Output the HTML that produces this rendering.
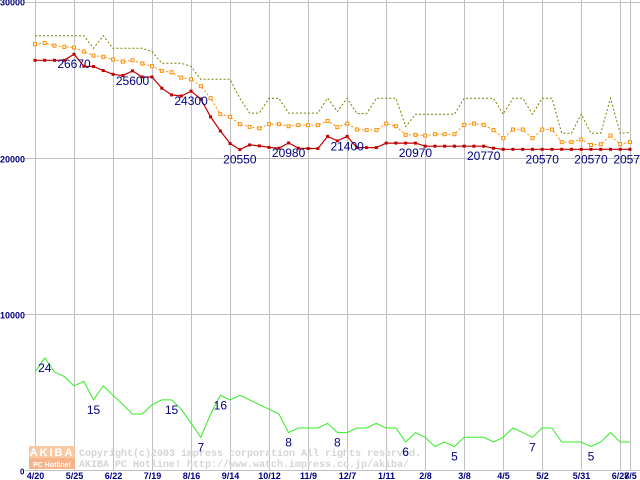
<!DOCTYPE html>
<html><head><meta charset="utf-8">
<style>
html,body{margin:0;padding:0;background:#fff;}
svg{display:block;font-family:"Liberation Sans",sans-serif;}
</style></head>
<body>
<svg id="chart" width="640" height="480" viewBox="0 0 640 480" xmlns="http://www.w3.org/2000/svg">
<g id="grid"></g>
<g id="watermark">
  <rect x="29" y="446" width="46" height="12" fill="#f9c9a4"/>
  <rect x="29" y="458" width="46" height="11" fill="#f7b48a"/>
  <text x="52" y="456" font-size="11" font-weight="bold" fill="#fff" text-anchor="middle" letter-spacing="2">AKIBA</text>
  <text x="52" y="467" font-size="7" font-weight="bold" fill="#fff" text-anchor="middle">PC Hotline!</text>
  <text x="79" y="456" font-size="10" font-family="Liberation Mono, monospace" font-weight="bold" fill="#d4d4d4">Copyright(c)2003 impress corporation All rights reserved.</text>
  <text x="79" y="467" font-size="10" font-family="Liberation Mono, monospace" font-weight="bold" fill="#d4d4d4">AKIBA PC Hotline!  http://www.watch.impress.co.jp/akiba/</text>
</g>
<g id="series"></g>
<g id="labels"></g>
</svg>
<script>
const xLabels = ["4/20","5/25","6/22","7/19","8/16","9/14","10/12","11/9","12/7","1/11","2/8","3/8","4/5","5/2","5/31","6/28","7/5"];
const xLabelIdx = [0,4,8,12,16,20,24,28,32,36,40,44,48,52,56,60,61];
const yTicks = [0,10000,20000,30000];
const minPrice = [26280,26280,26280,26280,26670,25900,25880,25620,25380,25300,25600,25210,25210,24490,24060,23990,24300,23800,22650,21750,20940,20550,20850,20790,20690,20640,20980,20640,20620,20620,21400,21110,21400,20680,20680,20680,20970,20970,20970,20970,20770,20770,20770,20770,20770,20770,20770,20640,20570,20570,20570,20570,20570,20570,20570,20570,20570,20570,20570,20570,20570,20570];
const avgPrice = [27310,27390,27220,27140,27100,26840,26580,26500,26330,26200,26280,26070,25900,25600,25510,25170,25060,24620,23850,22820,22650,22180,22010,21920,22180,22180,22050,22120,22120,22120,22390,21990,22220,21840,21800,21800,22220,22050,21500,21500,21450,21540,21540,21540,22140,22220,22140,21800,21280,21840,21840,21280,21840,21840,21030,21030,21200,20850,20900,21450,20900,21030];
const maxPrice = [27860,27860,27860,27860,27860,27860,27050,27860,27050,27050,27050,27050,26840,26090,26090,26090,25880,25060,25060,25060,25060,23850,22890,22890,23850,23850,22890,22890,22890,22890,23850,22990,23850,22860,22860,23850,23850,23850,22030,22820,22820,22820,22820,22820,23850,23850,23850,23850,22820,23850,23850,22820,23850,23850,21600,21600,22820,21600,21600,23850,21600,21650];
const shopCount = [21,24,21,20,18,19,15,18,16,14,12,12,14,15,15,13,10,7,12,16,15,16,15,14,13,12,8,9,9,9,10,8,8,9,9,10,9,9,6,8,7,5,6,5,7,7,7,6,7,9,8,7,9,9,6,6,6,5,6,8,6,6];
const priceLabelIdx = [4,10,16,21,26,32,39,46,52,57,61];
const countLabelIdx = [1,6,14,17,19,26,31,38,43,51,57];

const NS="http://www.w3.org/2000/svg";
const x0=35, dx=(630-35)/61;
function xs(i){return x0+i*dx;}
function yp(v){return 470-v*0.01559;}
function yc(c){return 470-c*4.67;}
function mk(tag,attrs,parent){const e=document.createElementNS(NS,tag);for(const k in attrs)e.setAttribute(k,attrs[k]);parent.appendChild(e);return e;}
const grid=document.getElementById('grid'), series=document.getElementById('series'), labels=document.getElementById('labels');

yTicks.forEach(t=>{
  const y=Math.round(yp(t))+0.5;
  const l=mk('line',{x1:25,x2:640,y1:y,y2:y,stroke:'#c0c0c0','stroke-width':1},grid);
  
  
  const tx=mk('text',{x:t===0?20:0,y:y+(t===30000?3:4),'font-size':t===0?8:9,'font-weight':'bold',fill:'#000080'},grid);
  tx.textContent=String(t);
  
  
});
xLabelIdx.forEach((idx,k)=>{
  const x=Math.round(xs(idx))+0.5;
  const l=mk('line',{x1:x,x2:x,y1:0,y2:471,stroke:'#c0c0c0','stroke-width':1},grid);
  
  
  const tx=mk('text',{x:x,y:479,'font-size':9,'font-weight':'bold',fill:'#000080','text-anchor':'middle'},grid);
  tx.textContent=xLabels[k];
  
  
});

function pts(arr,f){return arr.map((v,i)=>xs(i).toFixed(1)+','+f(v).toFixed(1)).join(' ');}
const ol=mk('polyline',{points:pts(maxPrice,yp),fill:'none',stroke:'#808000','stroke-width':1,'stroke-dasharray':'2,2'},series);


const or=mk('polyline',{points:pts(avgPrice,yp),fill:'none',stroke:'#ff8c00','stroke-width':1,'stroke-dasharray':'2,2'},series);


avgPrice.forEach((v,i)=>{
  const r=mk('rect',{x:xs(i)-1.5,y:yp(v)-1.5,width:3,height:3,fill:'#fff',stroke:'#ff8c00','stroke-width':1},series);
  
  
});
const rd=mk('polyline',{points:pts(minPrice,yp),fill:'none',stroke:'#c00000','stroke-width':1.2},series);


minPrice.forEach((v,i)=>{
  const r=mk('rect',{x:xs(i)-1.5,y:yp(v)-1.5,width:3,height:3,fill:'#c00000'},series);
  
  
});
const gr=mk('polyline',{points:pts(shopCount,yc),fill:'none',stroke:'#33ee22','stroke-width':1},series);



priceLabelIdx.forEach(i=>{
  const tx=mk('text',{x:xs(i),y:yp(minPrice[i])+14,'font-size':12,fill:'#000080','text-anchor':'middle'},labels);
  tx.textContent=String(minPrice[i]);
  
  
});
countLabelIdx.forEach(i=>{
  const tx=mk('text',{x:xs(i),y:yc(shopCount[i])+14,'font-size':12,fill:'#000080','text-anchor':'middle'},labels);
  tx.textContent=String(shopCount[i]);
  
  
});
</script>
</body></html>
